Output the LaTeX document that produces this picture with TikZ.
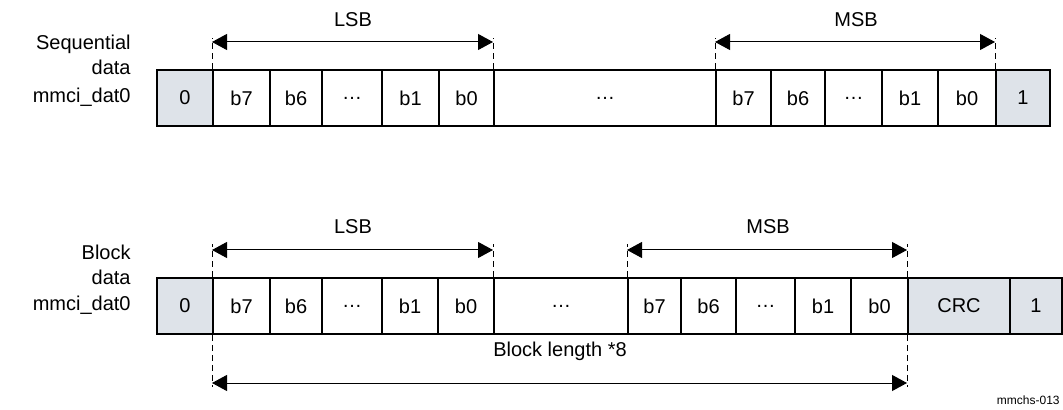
\documentclass[tikz,border=0pt]{standalone}
\usepackage{fontspec}
\setmainfont{Liberation Sans}
\usetikzlibrary{arrows.meta}
\definecolor{cellgray}{RGB}{222,227,233}
\tikzset{
  cell/.style={draw,line width=1pt,minimum height=28pt,inner sep=0pt,font=\fontsize{10}{12}\selectfont},
  dim/.style={{Triangle[length=7.5pt,width=8pt]}-{Triangle[length=7.5pt,width=8pt]},line width=0.5pt},
  guide/.style={line width=0.5pt,dash pattern=on 3pt off 2pt},
  lbl/.style={font=\fontsize{10}{12}\selectfont}
}

\begin{document}
\begin{tikzpicture}[x=0.5pt,y=-0.5pt]
\useasboundingbox (0,0) rectangle (1063,410);
\foreach \n/\l/\r/\t/\f in {s0/157/213/0/cellgray,s1/213/270/b7/white,s2/270/322/b6/white,s3/322/382/…/white,s4/382/439/b1/white,s5/439/494/b0/white,s6/494/716/…/white,s7/716/771/b7/white,s8/771/825/b6/white,s9/825/882/…/white,s10/882/938/b1/white,s11/938/996/b0/white,s12/996/1050/1/cellgray}
  \node[cell,fill=\f,minimum width={(\r-\l)*0.5pt}] (\n) at ({(\l+\r)/2},98) {\t};
\foreach \n/\l/\r/\t/\f in {k0/157/213/0/cellgray,k1/213/270/b7/white,k2/270/322/b6/white,k3/322/382/…/white,k4/382/438/b1/white,k5/438/494/b0/white,k6/494/628/…/white,k7/628/681/b7/white,k8/681/736/b6/white,k9/736/795/…/white,k10/795/851/b1/white,k11/851/908/b0/white,k12/908/1010/CRC/cellgray,k13/1010/1062/1/cellgray}
  \node[cell,fill=\f,minimum width={(\r-\l)*0.5pt}] (\n) at ({(\l+\r)/2},306) {\t};

\node[lbl,anchor=east,align=right,inner sep=0pt] (seqname) at (131,71) {Sequential\\[0.5pt]data\\[2pt]mmci\_dat0};
\node[lbl,anchor=east,align=right,inner sep=0pt] (blkname) at (131,280) {Block\\[0.5pt]data\\[1pt]mmci\_dat0};

\draw[guide] (s1.north west) -- ++(0,-31) coordinate (t1);
\draw[guide] (s6.north west) -- ++(0,-31) coordinate (t2);
\draw[guide] (s7.north west) -- ++(0,-31) coordinate (t3);
\draw[guide] (s12.north west) -- ++(0,-31) coordinate (t4);
\draw[dim] ([yshift=-2pt]t1) -- ([yshift=-2pt]t2);
\draw[dim] ([yshift=-2pt]t3) -- ([yshift=-2pt]t4);
\node[lbl] (lsb1) at (353,20) {LSB};
\node[lbl] (msb1) at (856,20) {MSB};

\draw[guide] (k1.north west) -- ++(0,-33) coordinate (u1);
\draw[guide] (k6.north west) -- ++(0,-33) coordinate (u2);
\draw[guide] (k7.north west) -- ++(0,-33) coordinate (u3);
\draw[guide] (k12.north west) -- ++(0,-33) coordinate (u4);
\draw[dim] ([yshift=-3pt]u1) -- ([yshift=-3pt]u2);
\draw[dim] ([yshift=-3pt]u3) -- ([yshift=-3pt]u4);
\node[lbl] (lsb2) at (353,227) {LSB};
\node[lbl] (msb2) at (768,227) {MSB};

\draw[guide] (k1.south west) -- ++(0,52) coordinate (d1);
\draw[guide] (k12.south west) -- ++(0,52) coordinate (d2);
\draw[dim] ([yshift=2pt]d1) -- ([yshift=2pt]d2);
\node[lbl] (blen) at (560,351) {Block length *8};

\node[anchor=east,inner sep=1pt,font=\fontsize{6}{7}\selectfont] (figid) at (1062,400) {mmchs-013};
\end{tikzpicture}
\end{document}
